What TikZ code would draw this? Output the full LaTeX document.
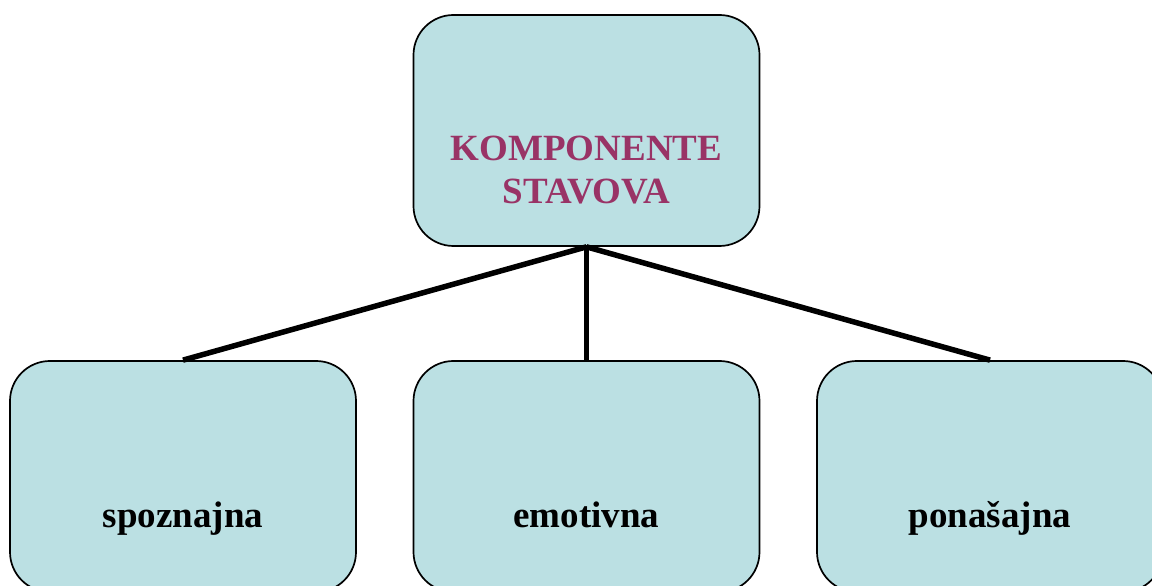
\documentclass[tikz,border=0pt]{standalone}
\usepackage{fontspec}
\setmainfont{Liberation Serif}
\definecolor{boxfill}{HTML}{BBE0E3}
\definecolor{titlecol}{HTML}{993366}
\begin{document}
\begin{tikzpicture}[x=1pt,y=1pt,
  box/.style={draw=black,line width=1.7pt,fill=boxfill,rounded corners=40pt,minimum width=346pt,minimum height=231pt,inner sep=0pt},
  lbl/.style={font=\fontsize{37}{43}\selectfont\bfseries,anchor=base,inner sep=0pt},
  conn/.style={line width=5.5pt}]
\useasboundingbox (0,0) rectangle (1152,586);
\node[box] (top) at (586.5,455.5) {};
\node[box] (left) at (183,109.5) {};
\node[box] (mid) at (586.5,109.5) {};
\node[box] (right) at (990,109.5) {};
\draw[conn] (top.south) -- (left.north);
\draw[conn] (top.south) -- (mid.north);
\draw[conn] (top.south) -- (right.north);
\node[lbl,text=titlecol] (t1) at (586.5,425) {KOMPONENTE};
\node[lbl,text=titlecol] (t2) at (586.5,382) {STAVOVA};
\node[lbl] (l1) at (183,58) {spoznajna};
\node[lbl] (m1) at (586.5,58) {emotivna};
\node[lbl] (r1) at (990,58) {ponašajna};
\end{tikzpicture}
\end{document}
